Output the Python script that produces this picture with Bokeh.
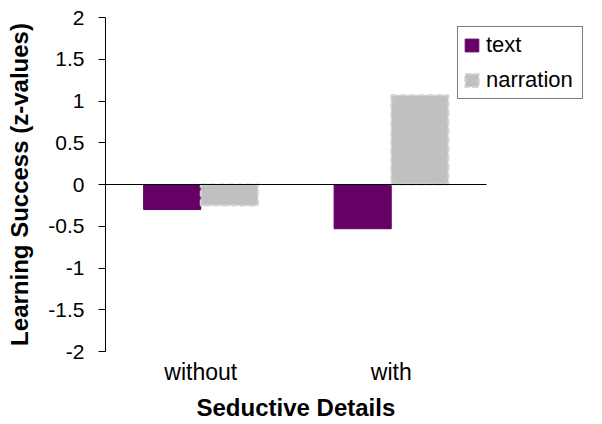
from bokeh.plotting import figure
from bokeh.models import ColumnDataSource, Legend, LegendItem, FixedTicker, Range1d, Title
from bokeh.embed import file_html
from bokeh.resources import INLINE

categories = ["without", "with"]
text_vals = [-0.30, -0.53]
narration_vals = [-0.25, 1.07]
y_ticks = [-2, -1.5, -1, -0.5, 0, 0.5, 1, 1.5, 2]

pos = [i + 0.5 for i in range(len(categories))]
src = ColumnDataSource(dict(
    xt=[x - 0.15 for x in pos], xn=[x + 0.15 for x in pos],
    text=text_vals, narration=narration_vals))

n = len(categories)
frame_left, frame_axis_right, frame_right = 105, 486, 596
x_end = n * (frame_right - frame_left) / (frame_axis_right - frame_left)

p = figure(width=602, height=424, x_range=Range1d(0, x_end), y_range=Range1d(-2, 2),
           output_backend="svg", toolbar_location=None,
           min_border_left=frame_left, min_border_right=602 - frame_right,
           min_border_top=17, min_border_bottom=72)
p.outline_line_color = None
p.xgrid.grid_line_color = None
p.ygrid.grid_line_color = None

r1 = p.vbar(x="xt", top="text", bottom=0, width=0.3, source=src,
            fill_color="#660066", line_color="#660066")
r2 = p.vbar(x="xn", top="narration", bottom=0, width=0.3, source=src,
            fill_color="#C0C0C0", line_color="#D4D4D4", line_width=2, line_dash="6 3")

p.segment(x0=[0], x1=[n], y0=[0], y1=[0], line_color="black", line_width=1.2)

font = "Liberation Sans"
p.yaxis.ticker = FixedTicker(ticks=y_ticks)
p.yaxis.major_label_overrides = {-2: "-2", -1.5: "-1.5", -1: "-1", -0.5: "-0.5", 0: "0",
                                 0.5: "0.5", 1: "1", 1.5: "1.5", 2: "2"}
p.yaxis.minor_tick_line_color = None
p.yaxis.major_tick_out = 7
p.yaxis.major_tick_in = 0
p.yaxis.axis_line_color = "black"
p.yaxis.major_tick_line_color = "black"
p.yaxis.major_label_text_font = font
p.yaxis.major_label_text_font_size = "21px"
p.yaxis.major_label_text_color = "black"
p.yaxis.major_label_standoff = 14
p.yaxis.axis_label = "Learning Success (z-values)"
p.yaxis.axis_label_text_font = font
p.yaxis.axis_label_text_font_style = "bold"
p.yaxis.axis_label_text_font_size = "24px"
p.yaxis.axis_label_text_color = "black"
p.yaxis.axis_label_standoff = 12

p.xaxis.ticker = FixedTicker(ticks=pos)
p.xaxis.major_label_overrides = {x: c for x, c in zip(pos, categories)}
p.xaxis.axis_line_color = None
p.xaxis.major_tick_line_color = None
p.xaxis.major_tick_out = 0
p.xaxis.major_tick_in = 0
p.xaxis.minor_tick_line_color = None
p.xaxis.major_label_text_font = font
p.xaxis.major_label_text_font_size = "23px"
p.xaxis.major_label_text_color = "black"
p.xaxis.major_label_standoff = 7

xlabel = Title(text="Seductive Details", align="left", offset=91,
               text_font=font, text_font_style="bold", text_font_size="24px",
               text_color="black", standoff=8)
p.add_layout(xlabel, "below")

legend = Legend(items=[LegendItem(label="text", renderers=[r1]),
                       LegendItem(label="narration", renderers=[r2])],
                location=(457 - frame_left, 352 - 100), border_line_color="black",
                border_line_width=1.2,
                label_text_font=font, label_text_font_size="22px", label_text_color="black",
                glyph_width=17, glyph_height=16, label_height=24, label_width=91,
                padding=5, spacing=9, label_standoff=6, margin=0,
                background_fill_alpha=1)
p.add_layout(legend, "center")

open("out.html", "w").write(file_html(p, INLINE))
